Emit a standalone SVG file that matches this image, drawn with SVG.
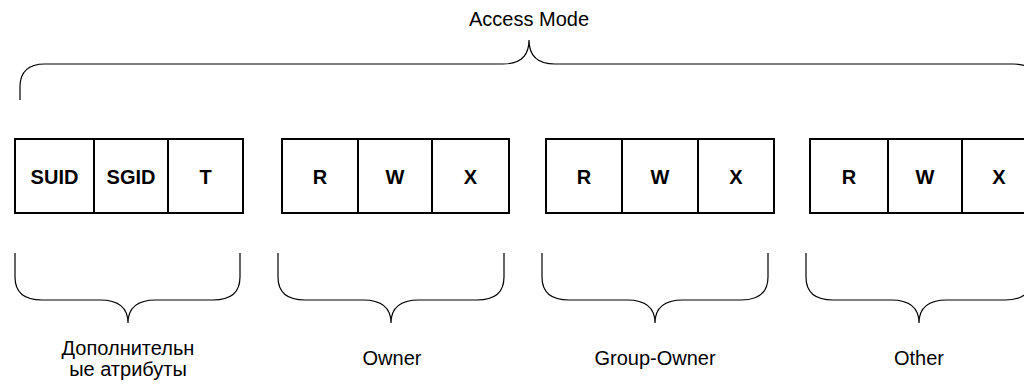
<svg xmlns="http://www.w3.org/2000/svg" width="1024" height="388" viewBox="0 0 1024 388">
<style>
.bg{fill:#fff}
.cell{fill:#fff;stroke:#000;stroke-width:2}
.brace{fill:none;stroke:#000;stroke-width:1.2}
.bt{font-family:"Liberation Sans",Arial,sans-serif;font-size:20px;font-weight:bold;fill:#000;text-anchor:middle}
.lbl{font-family:"Liberation Sans",Arial,sans-serif;font-size:20px;fill:#000;text-anchor:middle}
</style>
<rect class="bg" x="0" y="0" width="1024" height="388"/>
<g id="connectors">
<path id="brace-top" class="brace" d="M20,100 V87 Q20,64 45,64 H503 Q529,64 529,40 Q529,64 555,64 H1013 Q1038,64 1038,87 V100"/>
<path id="brace-extra" class="brace" d="M15,253 V277 Q15,300 42,300 H100 Q128,300 128,323 Q128,300 156,300 H213 Q240,300 240,277 V253"/>
<path id="brace-owner" class="brace" d="M278,253 V277 Q278,300 305,300 H363 Q391,300 391,323 Q391,300 419,300 H477 Q504,300 504,277 V253"/>
<path id="brace-group" class="brace" d="M542,253 V277 Q542,300 569,300 H627 Q655,300 655,323 Q655,300 683,300 H741 Q768,300 768,277 V253"/>
<path id="brace-other" class="brace" d="M806,253 V277 Q806,300 833,300 H891 Q919,300 919,323 Q919,300 947,300 H1005 Q1032,300 1032,277 V253"/>
</g>
<g id="access-mode-label"><text class="lbl" x="529" y="26">Access Mode</text></g>
<g id="node-suid"><rect class="cell" x="15" y="139" width="79" height="74"/><text class="bt" x="54.5" y="184">SUID</text></g>
<g id="node-sgid"><rect class="cell" x="94" y="139" width="74" height="74"/><text class="bt" x="131" y="184">SGID</text></g>
<g id="node-t"><rect class="cell" x="168" y="139" width="75" height="74"/><text class="bt" x="205.5" y="184">T</text></g>
<g id="node-owner-r"><rect class="cell" x="282" y="139" width="76" height="74"/><text class="bt" x="320" y="184">R</text></g>
<g id="node-owner-w"><rect class="cell" x="358" y="139" width="74" height="74"/><text class="bt" x="395" y="184">W</text></g>
<g id="node-owner-x"><rect class="cell" x="432" y="139" width="77" height="74"/><text class="bt" x="470.5" y="184">X</text></g>
<g id="node-group-r"><rect class="cell" x="546" y="139" width="76" height="74"/><text class="bt" x="584" y="184">R</text></g>
<g id="node-group-w"><rect class="cell" x="622" y="139" width="76" height="74"/><text class="bt" x="660" y="184">W</text></g>
<g id="node-group-x"><rect class="cell" x="698" y="139" width="76" height="74"/><text class="bt" x="736" y="184">X</text></g>
<g id="node-other-r"><rect class="cell" x="810" y="139" width="78" height="74"/><text class="bt" x="849" y="184">R</text></g>
<g id="node-other-w"><rect class="cell" x="888" y="139" width="74" height="74"/><text class="bt" x="925" y="184">W</text></g>
<g id="node-other-x"><rect class="cell" x="962" y="139" width="74" height="74"/><text class="bt" x="999" y="184">X</text></g>
<g id="label-extra"><text class="lbl" x="128" y="355">Дополнительн</text><text class="lbl" x="128" y="376">ые атрибуты</text></g>
<g id="label-owner"><text class="lbl" x="392" y="365">Owner</text></g>
<g id="label-group"><text class="lbl" x="655" y="365">Group-Owner</text></g>
<g id="label-other"><text class="lbl" x="919" y="365">Other</text></g>
</svg>
